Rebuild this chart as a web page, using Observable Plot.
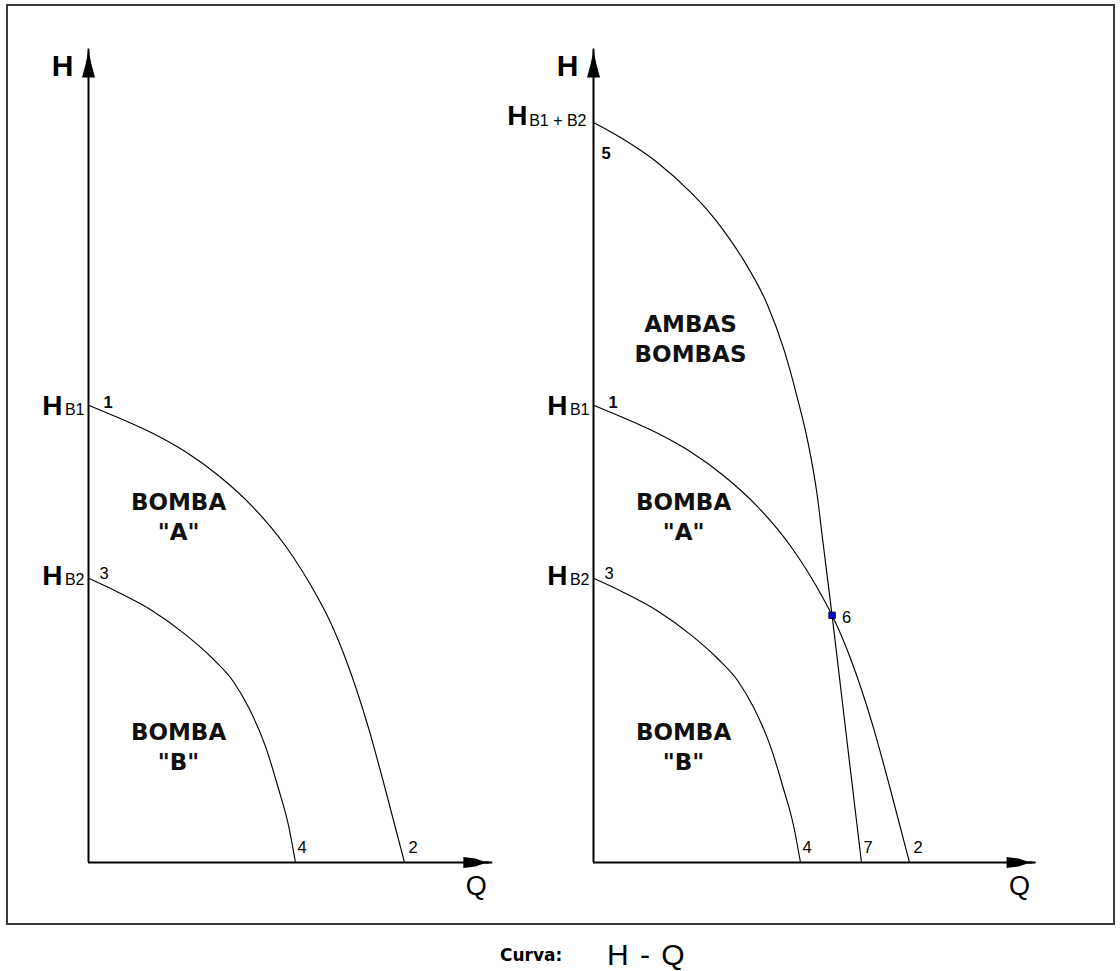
<!DOCTYPE html>
<html>
<head>
<meta charset="utf-8">
<script src="https://cdn.jsdelivr.net/npm/d3@7"></script>
<script src="https://cdn.jsdelivr.net/npm/@observablehq/plot@0.6"></script>
<style>
  html, body { margin: 0; padding: 0; background: #fff; }
  #page { position: relative; width: 1120px; height: 971px; overflow: hidden; }
  #frame { position: absolute; left: 6px; top: 4px; width: 1109px; height: 921px; border: 2px solid #3a3a3a; box-sizing: border-box; }
  #left, #right { position: absolute; top: 0; }
  #left { left: 0; }
  #right { left: 505px; }
  .cap { position: absolute; line-height: 1; color: #000; white-space: pre; }
</style>
</head>
<body>
<div id="page">
  <div id="frame"></div>
  <div id="left"></div>
  <div id="right"></div>
  <div class="cap" style="left:500px;top:947px;font-family:'DejaVu Sans';font-weight:bold;font-size:17px;">Curva:</div>
  <div class="cap" style="left:607px;top:940px;font-family:'Liberation Sans';font-size:30px;word-spacing:3px;">H - Q</div>
</div>
<script>
// ---- Data (Q = caudal, H = altura) ----
// Curva 1–2: Bomba "A"
const qA = [0, 9.5, 20.3, 30.7, 41.1, 51.9, 62.3, 72.8, 75.5, 81.3, 88.6, 94.0, 100];
const hA = [61.8, 60.1, 58.0, 55.5, 52.3, 48.1, 42.8, 35.6, 33.4, 27.6, 18.2, 9.8, 0];
// Curva 3–4: Bomba "B"
const qB = [0, 9.5, 20.3, 30.7, 39.2, 45.6, 50.6, 56.0, 60.1, 63.3, 65.5];
const hB = [38.4, 36.5, 34.0, 30.8, 27.6, 24.6, 21.0, 15.7, 10.0, 5.0, 0];
// Curva 5–7: Ambas bombas
const qAB = [0, 9.6, 20.2, 30.7, 36.0, 41.2, 47.5, 55.0, 60.2, 64.5, 68.0, 70.7, 72.7, 75.5, 78.2, 81.2, 84.8];
const hAB = [100, 97.7, 94.6, 90.6, 88.2, 85.4, 81.4, 75.4, 69.4, 62.8, 56.5, 49.9, 43.0, 33.4, 23.7, 12.9, 0];
// Alturas a caudal cero
const headNames = ["B1", "B2", "B1 + B2"];
const headValues = [61.8, 38.4, 100];
// Puntos numerados
const pointNames = ["1", "2", "3", "4", "5", "6", "7"];
const pointQ = [0, 100, 0, 65.5, 0, 75.5, 84.8];
const pointH = [61.8, 0, 38.4, 0, 100, 33.4, 0];
// Rótulos de regiones
const regionLabels = ['BOMBA\n"A"', 'BOMBA\n"B"', 'AMBAS\nBOMBAS'];
const regionQ = [28.5, 28.5, 30.7];
const regionH = [46.9, 15.8, 70.9];
// Extremos de los ejes
const axisTipH = 110;
const axisTipQ = [127.8, 139.9];

const rows = (qs, hs) => qs.map((q, i) => ({q, h: hs[i]}));
const curveA = rows(qA, hA), curveB = rows(qB, hB), curveAB = rows(qAB, hAB);
const points = pointNames.map((n, i) => ({name: n, q: pointQ[i], h: pointH[i]}));
const heads = headNames.map((n, i) => ({name: n, h: headValues[i]}));
const regions = regionLabels.map((t, i) => ({text: t, q: regionQ[i], h: regionH[i]}));

const arrowUp = {draw(ctx) {
  ctx.moveTo(-0.9, 0); ctx.lineTo(0.9, 0); ctx.lineTo(1.3, 8); ctx.lineTo(3, 16);
  ctx.lineTo(6.5, 29); ctx.lineTo(-6.5, 29); ctx.lineTo(-3, 16); ctx.lineTo(-1.3, 8); ctx.closePath();
}};
const arrowRight = {draw(ctx) {
  ctx.moveTo(0, -0.9); ctx.lineTo(-9, -1.3); ctx.lineTo(-17, -4); ctx.lineTo(-29, -5.5);
  ctx.lineTo(-29, 5.5); ctx.lineTo(-17, 4); ctx.lineTo(-9, 1.3); ctx.lineTo(0, 0.9); ctx.closePath();
}};

const SANS = "Liberation Sans, Arial, sans-serif";
const VERD = "DejaVu Sans, Verdana, sans-serif";

function pt(name, dx, dy, bold) {
  return Plot.text(points.filter(d => d.name === name), {
    x: "q", y: "h", text: "name", textAnchor: "start", dx, dy,
    fontSize: 16.5, fontFamily: SANS, fontWeight: bold ? "bold" : "normal", fill: "black"
  });
}
function head(name, subDx, hDx, dy) {
  const d = heads.filter(r => r.name === name);
  return [
    Plot.text(d, {x: () => 0, y: "h", text: "name", textAnchor: "end", dx: subDx, dy: dy + 1.5,
      fontSize: 16, fontFamily: SANS, fill: "black"}),
    Plot.text(d, {x: () => 0, y: "h", text: () => "H", textAnchor: "end", dx: hDx, dy: dy - 2.5,
      fontSize: 28, fontWeight: "bold", fontFamily: SANS, fill: "black"})
  ];
}

function panel(isRight) {
  const qTip = isRight ? axisTipQ[1] : axisTipQ[0];
  const regs = isRight ? regions : regions.slice(0, 2);
  const lineOpts = {x: "q", y: "h", curve: "monotone-x", stroke: "black", strokeWidth: 1.15};
  const marks = [
    Plot.ruleY([0], {x1: 0, x2: qTip - 1, stroke: "black", strokeWidth: 2}),
    Plot.ruleX([0], {y1: 0, y2: axisTipH - 1, stroke: "black", strokeWidth: 2}),
    Plot.dot([{q: 0, h: axisTipH}], {x: "q", y: "h", symbol: arrowUp, fill: "black", stroke: "none"}),
    Plot.dot([{q: qTip, h: 0}], {x: "q", y: "h", symbol: arrowRight, fill: "black", stroke: "none"}),
    Plot.line(curveA, lineOpts),
    Plot.line(curveB, lineOpts),
    Plot.text([{q: 0, h: axisTipH}], {x: "q", y: "h", text: () => "H", textAnchor: "end", dx: -15, dy: 18,
      fontSize: 30, fontWeight: "bold", fontFamily: SANS, fill: "black"}),
    Plot.text([{q: qTip, h: 0}], {x: "q", y: "h", text: () => "Q", textAnchor: "middle", dx: -16, dy: 24,
      fontSize: 27, fontFamily: SANS, fill: "black"}),
    Plot.text(regs, {x: "q", y: "h", text: "text", textAnchor: "middle", lineHeight: 1.3,
      fontSize: 23, fontWeight: "bold", fontFamily: VERD, fill: "#111"}),
    ...head("B1", -4, -26, 3.5),
    ...head("B2", -4, -26, 0),
    pt("1", 15, -2, true),
    pt("3", 11, -5, false),
    pt("4", 2, -15, false),
    pt("2", 4, -15, false)
  ];
  if (isRight) {
    marks.push(
      Plot.line(curveAB, lineOpts),
      ...head("B1 + B2", -7, -66, -3.5),
      pt("5", 8, 31, true),
      pt("6", 10, 2, false),
      pt("7", 2, -15, false),
      Plot.dot(points.filter(d => d.name === "6"), {x: "q", y: "h", symbol: "square", r: 3.6,
        fill: "#0b0bd0", stroke: "#000033", strokeWidth: 1})
    );
  }
  return Plot.plot({
    width: 560, height: 925,
    marginLeft: 88, marginRight: 13.8, marginTop: 48, marginBottom: 63,
    x: {domain: [0, 145], axis: null},
    y: {domain: [0, 110], axis: null},
    style: {background: "none", overflow: "visible", maxWidth: "none"},
    marks
  });
}

document.getElementById("left").appendChild(panel(false));
document.getElementById("right").appendChild(panel(true));
</script>
</body>
</html>
